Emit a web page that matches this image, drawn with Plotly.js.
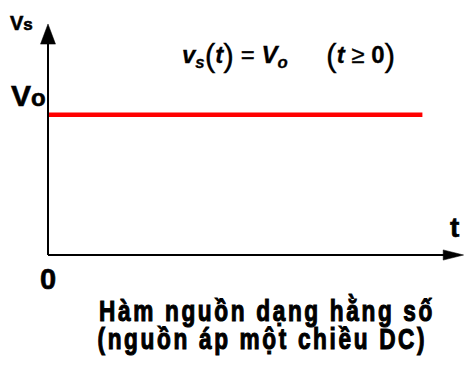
<!DOCTYPE html>
<html>
<head>
<meta charset="utf-8">
<script src="https://cdn.plot.ly/plotly-3.0.1.min.js"></script>
<style>
  html, body { margin: 0; padding: 0; background: #fff; }
  #chart { width: 464px; height: 365px; }
  /* heavier strokes for the axis labels */
  #chart .annotation[data-index="0"] text.annotation-text,
  #chart .annotation[data-index="1"] text.annotation-text,
  #chart .annotation[data-index="2"] text.annotation-text,
  #chart .annotation[data-index="3"] text.annotation-text {
    stroke: #000;
    stroke-width: 0.6px;
  }
  /* slightly heavier formula */
  #chart .annotation[data-index="4"] text.annotation-text,
  #chart .annotation[data-index="5"] text.annotation-text {
    stroke: #000;
    stroke-width: 0.3px;
  }
  /* condensed, letter-spaced, heavy caption lines */
  #chart .annotation[data-index="6"] text.annotation-text,
  #chart .annotation[data-index="7"] text.annotation-text {
    letter-spacing: 3.4px;
    stroke: #000;
    stroke-width: 1.1px;
    transform: scaleX(0.78);
    transform-box: fill-box;
    transform-origin: center;
  }
</style>
</head>
<body>
<div id="chart"></div>
<script>
// Constant source: v_s(t) = V_o for t >= 0
const timeValues = [0, 9];
const sourceValues = [5.5, 5.5];
const levelLabel = 'V<span style="font-size:24px">o</span>';
const originLabel = '0';
const timeAxisLabel = 't';
const valueAxisLabel = 'V<span style="font-size:17px">s</span>';
const formulaLeft = '<b><i>v</i><sub><i>s</i></sub></b><span style="font-size:32px;baseline-shift:-3px">(</span><b><i>t</i></b><span style="font-size:32px;baseline-shift:-3px">)</span> = <b><i>V</i><sub><i>o</i></sub></b>';
const formulaRight = '<span style="font-size:32px;baseline-shift:-3px">(</span><b><i>t</i></b> ≥ <b>0</b><span style="font-size:32px;baseline-shift:-3px">)</span>';
const captionLines = ['Hàm nguồn dạng hằng số', '(nguồn áp một chiều DC)'];

const boldFont = 'Liberation Sans, Arial, sans-serif';

const xMax = 10, yMax = 10;

const trace = {
  x: timeValues,
  y: sourceValues,
  mode: 'lines',
  line: { color: '#ff0000', width: 4.5 },
  hoverinfo: 'skip',
  showlegend: false,
  cliponaxis: false
};

const shapes = [
  // vertical axis
  { type: 'line', xref: 'x', yref: 'y', x0: 0, y0: 0, x1: 0, y1: 8.4,
    line: { color: '#000', width: 2 } },
  // horizontal axis
  { type: 'line', xref: 'x', yref: 'y', x0: 0, y0: 0, x1: 9.6, y1: 0,
    line: { color: '#000', width: 2 } },
  // arrow heads
  { type: 'path', xref: 'x', yref: 'y',
    path: 'M -0.18 8.27 L 0.18 8.27 L 0 9.06 Z',
    fillcolor: '#000', line: { color: '#000', width: 0.5 } },
  { type: 'path', xref: 'x', yref: 'y',
    path: 'M 9.5 0.2 L 9.5 -0.2 L 9.99 0 Z',
    fillcolor: '#000', line: { color: '#000', width: 0.5 } }
];

function label(text, x, y, size, anchor, weight) {
  return { x: x, y: y, xref: 'x', yref: 'y', xanchor: anchor || 'left', yanchor: 'middle',
           text: text, showarrow: false,
           font: { family: boldFont, size: size, color: '#000', weight: weight || 'normal' } };
}

const annotations = [
  label(valueAxisLabel, -0.95, 9.1, 20, 'left', 'bold'),
  label(levelLabel, -0.93, 6.26, 30, 'left', 'bold'),
  label(originLabel, -0.012, -0.96, 29, 'center', 'bold'),
  label(timeAxisLabel, 9.78, 1.06, 28, 'center', 'bold'),
  label(formulaLeft, (235 - 48) / 41.6, 7.86, 24, 'center'),
  label(formulaRight, (360 - 48) / 41.6, 7.86, 24, 'center'),
  label(captionLines[0], (266.5 - 48) / 41.6, -2.16, 29, 'center', 'bold'),
  label(captionLines[1], (262.5 - 48) / 41.6, -3.3, 29, 'center', 'bold')
];

const layout = {
  width: 464,
  height: 365,
  margin: { l: 0, r: 0, t: 0, b: 0, pad: 0 },
  paper_bgcolor: '#fff',
  plot_bgcolor: '#fff',
  xaxis: { range: [-48 / 41.6, xMax], visible: false, fixedrange: true },
  yaxis: { range: [-110 / 25.5, yMax], visible: false, fixedrange: true },
  shapes: shapes,
  annotations: annotations,
  showlegend: false
};

Plotly.newPlot('chart', [trace], layout, { staticPlot: true, displayModeBar: false });
</script>
</body>
</html>
